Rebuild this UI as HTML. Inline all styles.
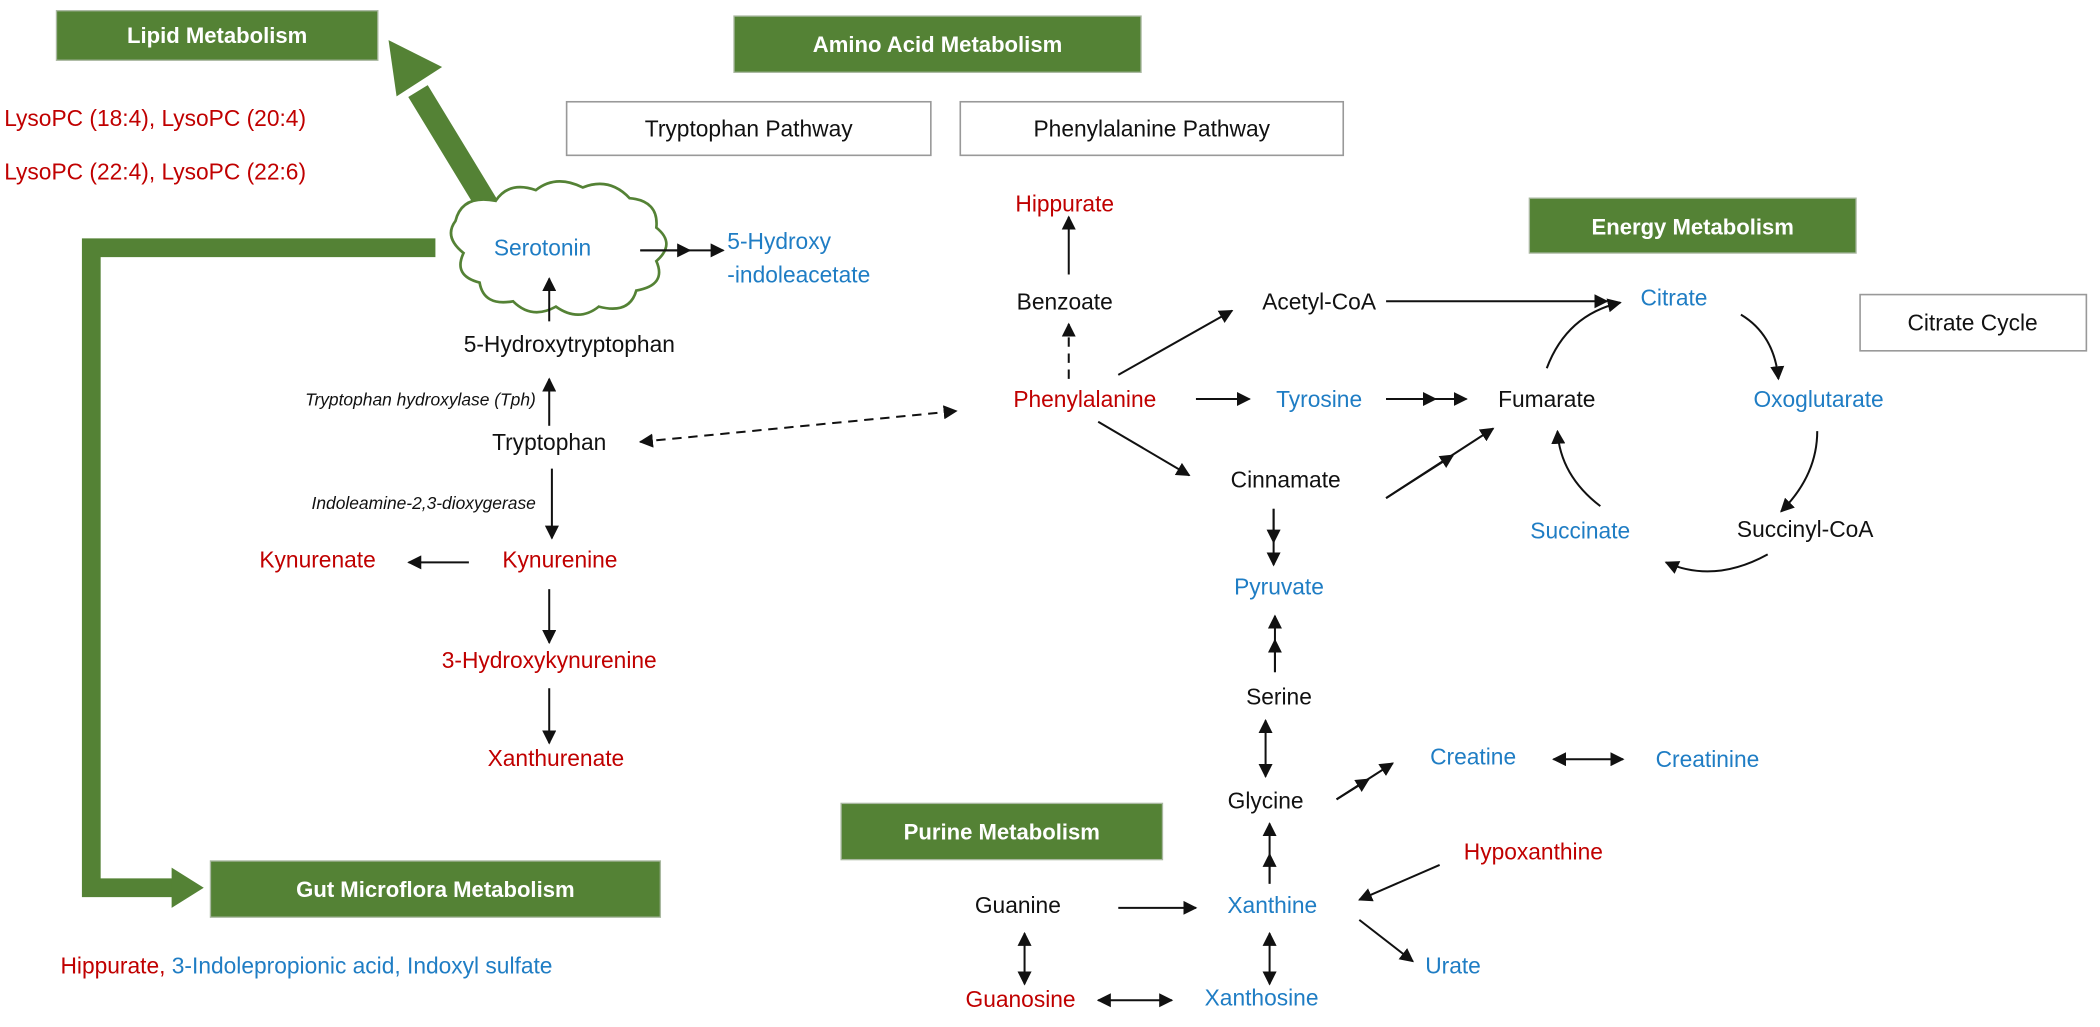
<!DOCTYPE html>
<html><head><meta charset="utf-8"><style>
html,body{margin:0;padding:0;background:#fff;}
svg{display:block}
text{font-family:"Liberation Sans",sans-serif;font-size:17px;}
.r{fill:#c00000}.b{fill:#1f7dc4}.k{fill:#111}
.h{fill:#fff;font-weight:bold;font-size:16.5px}
.i{font-style:italic;font-size:13px;fill:#111}
.l{stroke:#111;stroke-width:1.5;fill:none}
</style></head><body>
<svg width="2100" height="1027" viewBox="0 0 1568 767" xmlns="http://www.w3.org/2000/svg">
<defs>
<marker id="a" viewBox="0 0 10 10" refX="9" refY="5" markerWidth="7" markerHeight="7" orient="auto-start-reverse"><path d="M0,0 L10,5 L0,10 z" fill="#111"/></marker>
</defs>
<g fill="#548235" stroke="#a9b8a0" stroke-width="1">
<rect x="42" y="8" width="240" height="37"/>
<rect x="548" y="12" width="304" height="42"/>
<rect x="1142" y="148" width="244" height="41"/>
<rect x="628" y="600" width="240" height="42"/>
<rect x="157" y="643" width="336" height="42"/>
</g>
<text class="h" x="162" y="32" text-anchor="middle">Lipid Metabolism</text>
<text class="h" x="700" y="39" text-anchor="middle">Amino Acid Metabolism</text>
<text class="h" x="1264" y="175" text-anchor="middle">Energy Metabolism</text>
<text class="h" x="748" y="627" text-anchor="middle">Purine Metabolism</text>
<text class="h" x="325" y="670" text-anchor="middle">Gut Microflora Metabolism</text>
<g fill="#fff" stroke="#999" stroke-width="1.2">
<rect x="423" y="76" width="272" height="40"/>
<rect x="717" y="76" width="286" height="40"/>
<rect x="1389" y="220" width="169" height="42"/>
</g>
<text class="k" x="559" y="102" text-anchor="middle">Tryptophan Pathway</text>
<text class="k" x="860" y="102" text-anchor="middle">Phenylalanine Pathway</text>
<text class="k" x="1473" y="247" text-anchor="middle">Citrate Cycle</text>
<line x1="374" y1="170" x2="312" y2="68" stroke="#548235" stroke-width="17"/>
<polygon points="290,30 330,50 296,72" fill="#548235"/>
<polyline points="325,185 68,185 68,663 130,663" stroke="#548235" stroke-width="14" fill="none"/>
<polygon points="128,648 152,663 128,678" fill="#548235"/>
<path d="M340,165 q5,-20 30,-15 q10,-15 30,-8 q15,-12 35,-2 q20,-8 35,8 q22,2 20,22 q15,12 0,25 q8,18 -15,22 q-5,18 -28,12 q-15,12 -32,0 q-18,10 -32,-4 q-22,4 -25,-14 q-20,-5 -12,-22 q-15,-12 -6,-24z" fill="#fff" stroke="#548235" stroke-width="2"/>
<text class="r" x="3" y="94">LysoPC (18:4), LysoPC (20:4)</text>
<text class="r" x="3" y="134">LysoPC (22:4), LysoPC (22:6)</text>
<text class="b" x="405" y="191" text-anchor="middle">Serotonin</text>
<text class="b" x="543" y="186">5-Hydroxy</text>
<text class="b" x="543" y="211">-indoleacetate</text>
<text class="k" x="425" y="263" text-anchor="middle">5-Hydroxytryptophan</text>
<text class="i" x="400" y="303" text-anchor="end">Tryptophan hydroxylase (Tph)</text>
<text class="k" x="410" y="336" text-anchor="middle">Tryptophan</text>
<text class="i" x="400" y="380" text-anchor="end">Indoleamine-2,3-dioxygerase</text>
<text class="r" x="418" y="424" text-anchor="middle">Kynurenine</text>
<text class="r" x="237" y="424" text-anchor="middle">Kynurenate</text>
<text class="r" x="410" y="499" text-anchor="middle">3-Hydroxykynurenine</text>
<text class="r" x="415" y="572" text-anchor="middle">Xanthurenate</text>
<text x="45" y="727"><tspan class="r">Hippurate, </tspan><tspan class="b">3-Indolepropionic acid, Indoxyl sulfate</tspan></text>
<text class="r" x="795" y="158" text-anchor="middle">Hippurate</text>
<text class="k" x="795" y="231" text-anchor="middle">Benzoate</text>
<text class="k" x="985" y="231" text-anchor="middle">Acetyl-CoA</text>
<text class="r" x="810" y="304" text-anchor="middle">Phenylalanine</text>
<text class="b" x="985" y="304" text-anchor="middle">Tyrosine</text>
<text class="k" x="1155" y="304" text-anchor="middle">Fumarate</text>
<text class="k" x="960" y="364" text-anchor="middle">Cinnamate</text>
<text class="b" x="1250" y="228" text-anchor="middle">Citrate</text>
<text class="b" x="1358" y="304" text-anchor="middle">Oxoglutarate</text>
<text class="k" x="1348" y="401" text-anchor="middle">Succinyl-CoA</text>
<text class="b" x="1180" y="402" text-anchor="middle">Succinate</text>
<text class="b" x="955" y="444" text-anchor="middle">Pyruvate</text>
<text class="k" x="955" y="526" text-anchor="middle">Serine</text>
<text class="k" x="945" y="604" text-anchor="middle">Glycine</text>
<text class="b" x="1100" y="571" text-anchor="middle">Creatine</text>
<text class="b" x="1275" y="573" text-anchor="middle">Creatinine</text>
<text class="r" x="1145" y="642" text-anchor="middle">Hypoxanthine</text>
<text class="b" x="950" y="682" text-anchor="middle">Xanthine</text>
<text class="k" x="760" y="682" text-anchor="middle">Guanine</text>
<text class="b" x="1085" y="727" text-anchor="middle">Urate</text>
<text class="b" x="942" y="751" text-anchor="middle">Xanthosine</text>
<text class="r" x="762" y="752" text-anchor="middle">Guanosine</text>
<g class="l">
<line x1="478" y1="187" x2="540" y2="187" marker-end="url(#a)"/>
<line x1="478" y1="187" x2="515" y2="187" marker-end="url(#a)"/>
<line x1="410" y1="240" x2="410" y2="208" marker-end="url(#a)"/>
<line x1="410" y1="318" x2="410" y2="283" marker-end="url(#a)"/>
<line x1="478" y1="330" x2="714" y2="307" stroke-dasharray="7,5" marker-start="url(#a)" marker-end="url(#a)"/>
<line x1="412" y1="350" x2="412" y2="402" marker-end="url(#a)"/>
<line x1="350" y1="420" x2="305" y2="420" marker-end="url(#a)"/>
<line x1="410" y1="440" x2="410" y2="480" marker-end="url(#a)"/>
<line x1="410" y1="514" x2="410" y2="555" marker-end="url(#a)"/>
<line x1="798" y1="283" x2="798" y2="242" stroke-dasharray="7,5" marker-end="url(#a)"/>
<line x1="798" y1="205" x2="798" y2="162" marker-end="url(#a)"/>
<line x1="835" y1="280" x2="920" y2="232" marker-end="url(#a)"/>
<line x1="893" y1="298" x2="933" y2="298" marker-end="url(#a)"/>
<line x1="1035" y1="298" x2="1095" y2="298" marker-end="url(#a)"/>
<line x1="1035" y1="298" x2="1072" y2="298" marker-end="url(#a)"/>
<line x1="820" y1="315" x2="888" y2="355" marker-end="url(#a)"/>
<line x1="1035" y1="372" x2="1115" y2="320" marker-end="url(#a)"/>
<line x1="1035" y1="372" x2="1085" y2="340" marker-end="url(#a)"/>
<line x1="1035" y1="225" x2="1200" y2="225" marker-end="url(#a)"/>
<path d="M1155,275 Q1170,235 1210,226" marker-end="url(#a)"/>
<path d="M1300,235 Q1325,250 1328,283" marker-end="url(#a)"/>
<path d="M1357,322 Q1357,355 1330,382" marker-end="url(#a)"/>
<path d="M1320,414 Q1280,436 1244,420" marker-end="url(#a)"/>
<path d="M1195,378 Q1165,355 1163,322" marker-end="url(#a)"/>
<line x1="951" y1="380" x2="951" y2="422" marker-end="url(#a)"/>
<line x1="951" y1="380" x2="951" y2="405" marker-end="url(#a)"/>
<line x1="952" y1="502" x2="952" y2="460" marker-end="url(#a)"/>
<line x1="952" y1="502" x2="952" y2="478" marker-end="url(#a)"/>
<line x1="945" y1="538" x2="945" y2="580" marker-start="url(#a)" marker-end="url(#a)"/>
<line x1="998" y1="597" x2="1040" y2="570" marker-end="url(#a)"/>
<line x1="998" y1="597" x2="1022" y2="582" marker-end="url(#a)"/>
<line x1="1160" y1="567" x2="1212" y2="567" marker-start="url(#a)" marker-end="url(#a)"/>
<line x1="1075" y1="646" x2="1015" y2="672" marker-end="url(#a)"/>
<line x1="948" y1="660" x2="948" y2="615" marker-end="url(#a)"/>
<line x1="948" y1="660" x2="948" y2="638" marker-end="url(#a)"/>
<line x1="835" y1="678" x2="893" y2="678" marker-end="url(#a)"/>
<line x1="1015" y1="687" x2="1055" y2="718" marker-end="url(#a)"/>
<line x1="948" y1="697" x2="948" y2="735" marker-start="url(#a)" marker-end="url(#a)"/>
<line x1="765" y1="697" x2="765" y2="735" marker-start="url(#a)" marker-end="url(#a)"/>
<line x1="820" y1="747" x2="875" y2="747" marker-start="url(#a)" marker-end="url(#a)"/>
</g>
</svg>
</body></html>
